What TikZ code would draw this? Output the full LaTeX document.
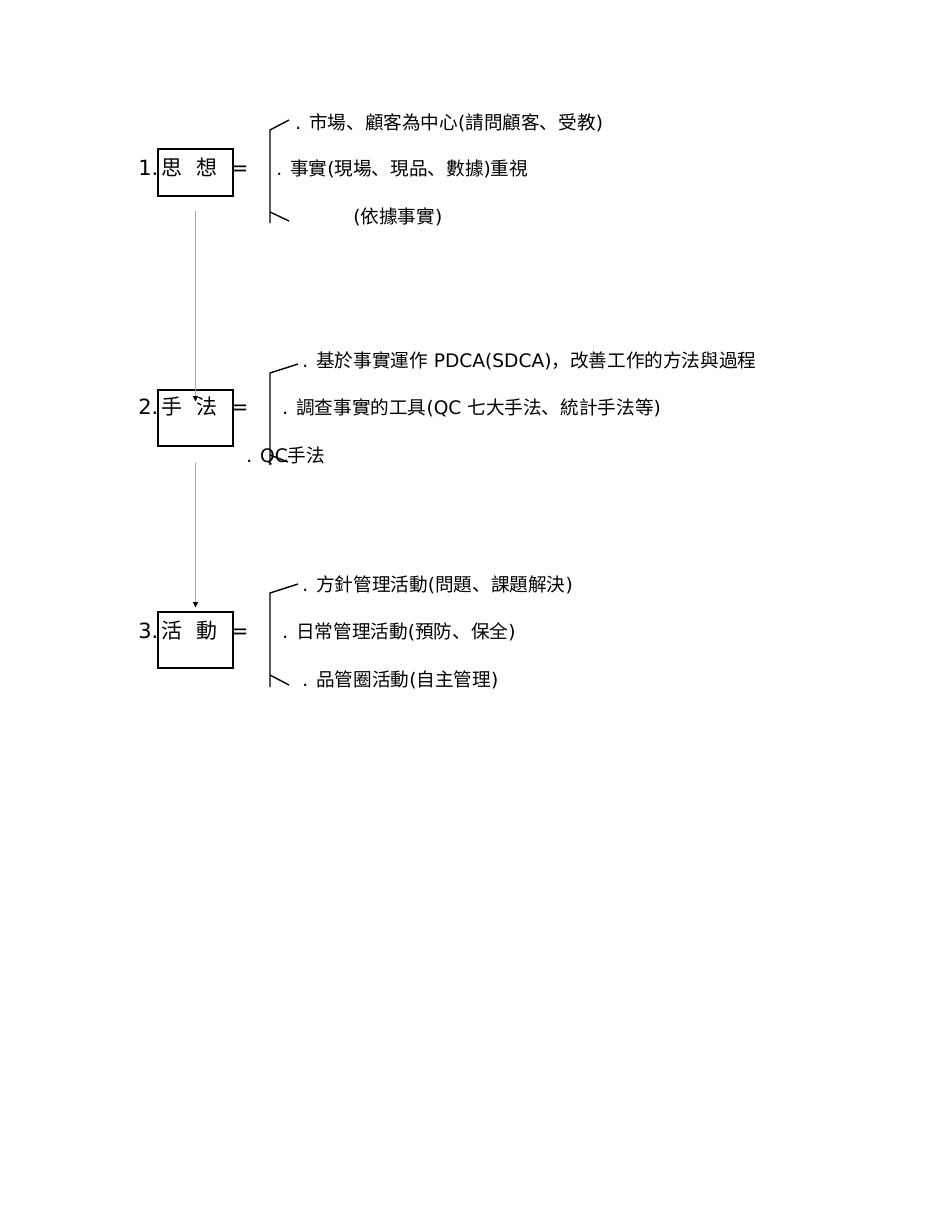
\documentclass[tikz,border=0pt]{standalone}
\usepackage{fontspec}
\setmainfont{DejaVu Sans}
\newfontfamily\cjkfont{Noto Sans CJK SC}
\newcommand{\cjkt}[1]{{\cjkfont #1}}
\usetikzlibrary{arrows.meta}
\begin{document}
\begin{tikzpicture}[x=0.6442pt,y=-0.6442pt,
  txt/.style={anchor=west,inner sep=0pt,font=\fontsize{12}{14}\selectfont,text height=9pt,text depth=0.4pt},
  lbl/.style={anchor=west,inner sep=0pt,font=\fontsize{13.5}{16}\selectfont,text height=10pt,text depth=0.4pt},
  box/.style={draw,line width=0.8pt,inner sep=0pt,minimum width=48.3pt},
  conn/.style={draw=black!35,line width=0.5pt,-{Triangle[length=3.4pt,width=3.4pt,color=black]}},
  brk/.style={line width=0.9pt}]
\useasboundingbox[fill=white] (0,0) rectangle (950,1230);

% boxes
\node[box,minimum height=30.3pt] (b1) at (195.5,172.5) {};
\node[box,minimum height=36.1pt] (b2) at (195.5,418) {};
\node[box,minimum height=36.1pt] (b3) at (195.5,640) {};

% box labels
\node[lbl] (n1) at (138,168) {1.};
\node[lbl] (k1a) at (161,168) {\cjkt{思}};
\node[lbl] (k1b) at (196,168) {\cjkt{想}};
\node[lbl] (q1) at (230.5,168) {=};
\node[lbl] (n2) at (138,407) {2.};
\node[lbl] (k2a) at (161,407) {\cjkt{手}};
\node[lbl] (k2b) at (196,407) {\cjkt{法}};
\node[lbl] (q2) at (230.5,407) {=};
\node[lbl] (n3) at (138,631) {3.};
\node[lbl] (k3a) at (161,631) {\cjkt{活}};
\node[lbl] (k3b) at (196,631) {\cjkt{動}};
\node[lbl] (q3) at (230.5,631) {=};

% connectors
\draw[conn] ([yshift=-9pt]b1.south) -- ([yshift=-7.7pt]b2.north);
\draw[conn] ([yshift=-10.3pt]b2.south) -- ([yshift=2.6pt]b3.north);

% brackets
\draw[brk] (289,120) -- (270,130) -- (270,223);
\draw[brk] (270,212) -- (289,221);
\draw[brk] (298,364) -- (270,373) -- (270,465);
\draw[brk] (270,455) -- (288,462);
\draw[brk] (298,584) -- (270,593) -- (270,687);
\draw[brk] (270,675) -- (289,685);

% items
\node[txt] (t11) at (295,123) {. \cjkt{市場、顧客為中心}(\cjkt{請問顧客、受教})};
\node[txt] (t12) at (276,169) {. \cjkt{事實}(\cjkt{現場、現品、數據})\cjkt{重視}};
\node[txt] (t13) at (353,217) {(\cjkt{依據事實})};
\node[txt] (t21) at (302,361) {. \cjkt{基於事實運作} PDCA(SDCA)\cjkt{，改善工作的方法與過程}};
\node[txt] (t22) at (282,408) {. \cjkt{調查事實的工具}(QC \cjkt{七大手法、統計手法等})};
\node[txt] (t23) at (246,456) {. QC\cjkt{手法}};
\node[txt] (t31) at (302,585) {. \cjkt{方針管理活動}(\cjkt{問題、課題解決})};
\node[txt] (t32) at (282,632) {. \cjkt{日常管理活動}(\cjkt{預防、保全})};
\node[txt] (t33) at (302,680) {. \cjkt{品管圈活動}(\cjkt{自主管理})};
\end{tikzpicture}
\end{document}
